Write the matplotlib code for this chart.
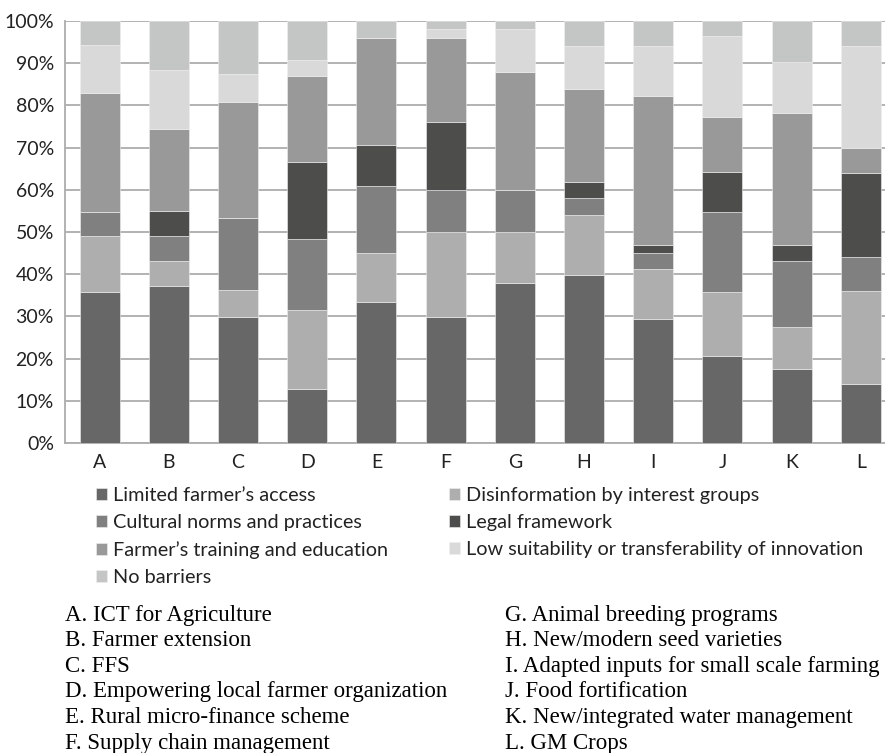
import numpy as np
import matplotlib.pyplot as plt

# Share of barriers per innovation (percent of responses)
cats = ['A', 'B', 'C', 'D', 'E', 'F', 'G', 'H', 'I', 'J', 'K', 'L']
limited = [35.9, 37.3, 29.9, 12.8, 33.3, 29.9, 38.0, 39.9, 29.4, 20.7, 17.6, 13.9]
disinfo = [13.1, 5.8, 6.4, 18.7, 11.8, 20.1, 12.0, 14.1, 11.8, 15.2, 9.9, 22.1]
cultural = [5.7, 6.0, 16.9, 16.8, 15.8, 10.0, 10.0, 4.1, 3.9, 18.8, 15.6, 8.1]
legal = [0.0, 5.8, 0.0, 18.4, 9.7, 16.0, 0.0, 3.7, 1.8, 9.4, 3.8, 19.9]
training = [28.2, 19.6, 27.6, 20.3, 25.4, 20.0, 27.9, 22.2, 35.4, 13.2, 31.4, 6.0]
low_suit = [11.5, 13.9, 6.6, 3.8, 0.0, 2.1, 10.2, 10.1, 11.8, 19.1, 11.9, 24.1]
no_barr = [5.6, 11.7, 12.6, 9.2, 4.0, 1.9, 1.9, 5.9, 5.9, 3.6, 9.8, 5.9]

series = [
    ('Limited farmer’s access', limited, '#676767'),
    ('Disinformation by interest groups', disinfo, '#aeaeae'),
    ('Cultural norms and practices', cultural, '#808080'),
    ('Legal framework', legal, '#4d4d4b'),
    ('Farmer’s training and education', training, '#999999'),
    ('Low suitability or transferability of innovation', low_suit, '#d9d9d9'),
    ('No barriers', no_barr, '#c4c6c5'),
]

left_notes = ['A. ICT for Agriculture', 'B. Farmer extension', 'C. FFS',
              'D. Empowering local farmer organization',
              'E. Rural micro-finance scheme', 'F. Supply chain management']
right_notes = ['G. Animal breeding programs', 'H. New/modern seed varieties',
               'I. Adapted inputs for small scale farming',
               'J. Food fortification', 'K. New/integrated water management',
               'L. GM Crops']

plt.rcParams['font.family'] = ['Lato', 'DejaVu Sans']

fig = plt.figure(figsize=(8.85, 7.53), dpi=100)
ax = fig.add_axes([65/885, 1-443/753, 1-65/885, (443-21)/753])

x = np.arange(len(cats))
bottom = np.zeros(len(cats))
handles = []
for name, vals, col in series:
    b = ax.bar(x, vals, width=0.58, bottom=bottom, color=col, label=name,
               edgecolor='#f0f0f0', linewidth=0.4, zorder=3)
    handles.append(b)
    bottom += np.array(vals)

ax.set_xlim(-0.5, 11.35)
ax.set_ylim(0, 100)
ax.set_yticks(np.arange(0, 101, 10))
ax.set_yticklabels([f'{v}%' for v in range(0, 101, 10)])
ax.set_xticks(x)
ax.set_xticklabels(cats)
ax.tick_params(length=0, labelsize=14, colors='#222222')
ax.tick_params(axis='y', pad=8)
ax.tick_params(axis='x', pad=8)
ax.grid(axis='y', color='#adadad', linewidth=1.3, zorder=0)
for s in ['top', 'right']:
    ax.spines[s].set_visible(False)
ax.spines['left'].set_color('#adadad')
ax.spines['bottom'].set_color('#adadad')
ax.spines['left'].set_linewidth(1.3)
ax.spines['bottom'].set_linewidth(1.3)

# legend filled row by row like the original
order = [0, 2, 4, 6, 1, 3, 5]
leg = fig.legend([handles[i] for i in order], [series[i][0] for i in order],
                 ncol=2, loc='upper left', bbox_to_anchor=(96/885, 1-487/753),
                 frameon=False, fontsize=14.3, handlelength=0.55, handleheight=0.55,
                 handletextpad=0.3, labelspacing=0.51, columnspacing=3.1,
                 borderaxespad=0, borderpad=0)
for t in leg.get_texts():
    t.set_color('#222222')

for i, (a, b) in enumerate(zip(left_notes, right_notes)):
    yy = 1 - (615 + i*25.6)/753
    fig.text(65/885, yy, a, family='Liberation Serif', fontsize=16.5, va='center')
    fig.text(505/885, yy, b, family='Liberation Serif', fontsize=16.5, va='center')

fig.savefig('out.png', dpi=100)
